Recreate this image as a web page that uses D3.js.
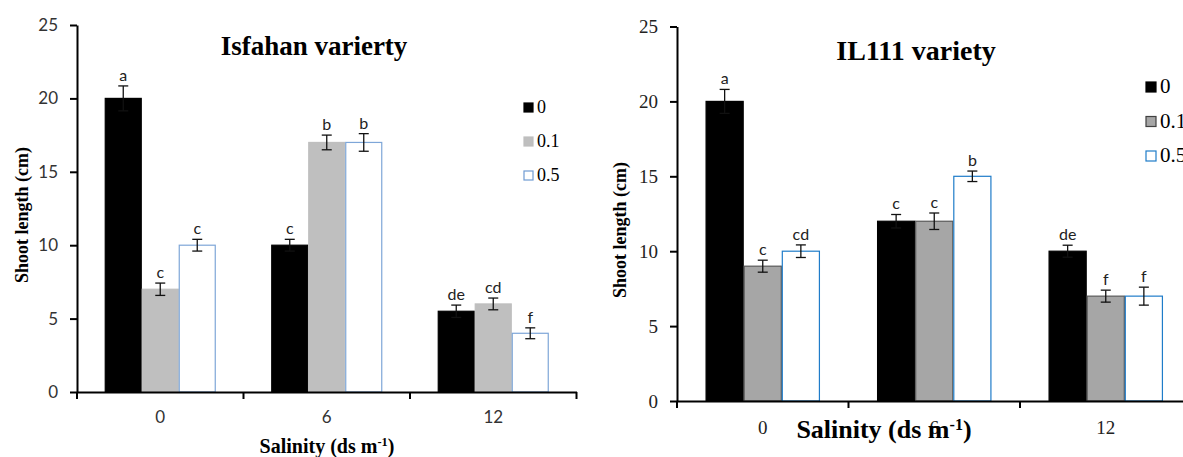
<!DOCTYPE html>
<html>
<head>
<meta charset="utf-8">
<script src="https://cdn.jsdelivr.net/npm/d3@7"></script>
<style>
  body { margin: 0; background: #fff; }
  svg { display: block; }
</style>
</head>
<body>
<svg id="chart" width="1183" height="457"></svg>
<script>
// categories and series
const salinity = ["0", "6", "12"];
const treatments = ["0", "0.1", "0.5"];
const yTicks = [0, 5, 10, 15, 20, 25];

// Isfahan variety: means, errors, letters (one array per treatment)
const isfahanMean0 = [20, 10, 5.5];
const isfahanMean01 = [7, 17, 6];
const isfahanMean05 = [10, 17, 4];
const isfahanErr0 = [0.85, 0.4, 0.42];
const isfahanErr01 = [0.42, 0.5, 0.4];
const isfahanErr05 = [0.4, 0.6, 0.37];
const isfahanLet0 = ["a", "c", "de"];
const isfahanLet01 = ["c", "b", "cd"];
const isfahanLet05 = ["c", "b", "f"];

// IL111 variety
const il111Mean0 = [20, 12, 10];
const il111Mean01 = [9, 12, 7];
const il111Mean05 = [10, 15, 7];
const il111Err0 = [0.8, 0.45, 0.4];
const il111Err01 = [0.4, 0.55, 0.4];
const il111Err05 = [0.42, 0.35, 0.6];
const il111Let0 = ["a", "c", "de"];
const il111Let01 = ["c", "c", "f"];
const il111Let05 = ["cd", "b", "f"];

function rows(means, errs, lets) {
  const out = [];
  salinity.forEach((s, i) => {
    treatments.forEach((t, j) => {
      out.push({ sal: s, trt: t, v: means[j][i], e: errs[j][i], lab: lets[j][i] });
    });
  });
  return out;
}

const isfahanData = rows([isfahanMean0, isfahanMean01, isfahanMean05],
  [isfahanErr0, isfahanErr01, isfahanErr05],
  [isfahanLet0, isfahanLet01, isfahanLet05]);
const il111Data = rows([il111Mean0, il111Mean01, il111Mean05],
  [il111Err0, il111Err01, il111Err05],
  [il111Let0, il111Let01, il111Let05]);

const svg = d3.select("#chart");
const sans = "Lato, 'Open Sans', sans-serif";
const serif = "'Liberation Serif', 'Times New Roman', serif";

function drawPanel(data, p) {
  const g = svg.append("g");

  const x = d3.scaleBand().domain(salinity)
    .range([p.left, p.left + 3 * p.step]).padding(0);
  const xs = d3.scaleBand().domain(treatments)
    .range([0, x.bandwidth()]).paddingInner(0).paddingOuter(0.75);
  const y = d3.scaleLinear().domain([0, 25]).range([p.bottom, p.top]);

  // bars
  g.selectAll("rect.bar").data(data).enter().append("rect")
    .attr("class", "bar")
    .attr("x", d => x(d.sal) + xs(d.trt) + 0.5)
    .attr("y", d => y(d.v))
    .attr("width", xs.bandwidth() - 1)
    .attr("height", d => y(0) - y(d.v))
    .attr("fill", d => p.fill[d.trt])
    .attr("stroke", d => p.stroke[d.trt])
    .attr("stroke-width", 1.2);

  // error bars
  const eb = g.selectAll("g.err").data(data).enter().append("g").attr("class", "err")
    .attr("stroke", "#111").attr("stroke-width", 1.3);
  const cx = d => x(d.sal) + xs(d.trt) + xs.bandwidth() / 2;
  eb.append("line").attr("x1", cx).attr("x2", cx)
    .attr("y1", d => y(d.v - d.e)).attr("y2", d => y(d.v + d.e));
  eb.append("line").attr("x1", d => cx(d) - 5).attr("x2", d => cx(d) + 5)
    .attr("y1", d => y(d.v + d.e)).attr("y2", d => y(d.v + d.e));
  eb.append("line").attr("x1", d => cx(d) - 5).attr("x2", d => cx(d) + 5)
    .attr("y1", d => y(d.v - d.e)).attr("y2", d => y(d.v - d.e));

  // letters
  g.selectAll("text.lab").data(data).enter().append("text")
    .attr("class", "lab")
    .attr("x", cx)
    .attr("y", d => y(d.v + d.e) - 5)
    .attr("text-anchor", "middle")
    .attr("font-family", sans)
    .attr("font-size", 16)
    .attr("fill", "#222")
    .text(d => d.lab);

  // y axis
  const yAxisG = g.append("g")
    .attr("transform", `translate(${p.left},0)`)
    .call(d3.axisLeft(y).tickValues(yTicks).tickSize(7).tickSizeOuter(0).tickPadding(12));
  yAxisG.select(".domain").attr("stroke", "#000").attr("stroke-width", 2);
  yAxisG.selectAll(".tick line").attr("stroke", "#000").attr("stroke-width", 2);
  yAxisG.selectAll(".tick text")
    .attr("font-family", p.tickFont).attr("font-size", p.tickSize).attr("fill", p.tickColor);

  // x axis
  const xAxisG = g.append("g")
    .attr("transform", `translate(0,${p.bottom})`)
    .call(d3.axisBottom(x).tickSize(0).tickPadding(p.xPad));
  xAxisG.select(".domain").attr("stroke", "#000").attr("stroke-width", 2.2);
  xAxisG.selectAll(".tick text")
    .attr("font-family", p.tickFont).attr("font-size", p.tickSize).attr("fill", p.tickColor);
  const bounds = d3.range(salinity.length + 1).map(i => x.range()[0] + i * x.step());
  xAxisG.selectAll("line.bound").data(bounds).enter().append("line")
    .attr("class", "bound")
    .attr("x1", d => d).attr("x2", d => d)
    .attr("y1", 0).attr("y2", 7)
    .attr("stroke", "#000").attr("stroke-width", 2);

  // title
  g.append("text")
    .attr("x", p.titleX).attr("y", p.titleY)
    .attr("text-anchor", "middle")
    .attr("font-family", serif).attr("font-weight", "bold")
    .attr("font-size", p.titleSize)
    .text(p.title);

  // y title
  g.append("text")
    .attr("transform", `translate(${p.yTitleX},${p.yTitleY}) rotate(-90)`)
    .attr("text-anchor", "middle")
    .attr("dy", "0.35em")
    .attr("font-family", serif).attr("font-weight", "bold")
    .attr("font-size", 18)
    .text("Shoot length (cm)");

  // x title
  const xt = g.append("text")
    .attr("x", p.xTitleX).attr("y", p.xTitleY)
    .attr("text-anchor", "middle")
    .attr("font-family", serif).attr("font-weight", "bold")
    .attr("font-size", p.xTitleSize);
  xt.append("tspan").text("Salinity (ds m");
  xt.append("tspan").attr("baseline-shift", "super").attr("font-size", p.xTitleSize * 0.62).text("-1");
  xt.append("tspan").text(")");

  // legend
  const lg = g.selectAll("g.leg").data(treatments).enter().append("g")
    .attr("class", "leg")
    .attr("transform", (d, i) => `translate(${p.legX},${p.legY + i * p.legStep})`);
  lg.append("rect")
    .attr("x", 0).attr("y", -p.legBox - 1)
    .attr("width", p.legBox).attr("height", p.legBox)
    .attr("fill", d => p.fill[d])
    .attr("stroke", d => p.legStroke[d])
    .attr("stroke-width", 1.2);
  lg.append("text")
    .attr("x", p.legBox + 4).attr("y", 0)
    .attr("font-family", serif).attr("font-size", p.legFont)
    .text(d => d);
}

drawPanel(isfahanData, {
  left: 77, step: 166.5, top: 25, bottom: 392,
  fill: { "0": "#000000", "0.1": "#bfbfbf", "0.5": "#ffffff" },
  stroke: { "0": "#000000", "0.1": "#bfbfbf", "0.5": "#7ea6d8" },
  legStroke: { "0": "#000000", "0.1": "#bfbfbf", "0.5": "#6f9bd3" },
  tickFont: sans, tickSize: 17, tickColor: "#333", xPad: 19,
  title: "Isfahan varierty", titleX: 314, titleY: 55, titleSize: 27,
  yTitleX: 22, yTitleY: 215,
  xTitleX: 327, xTitleY: 453, xTitleSize: 20,
  legX: 524, legY: 113, legStep: 34, legBox: 9, legFont: 18
});

drawPanel(il111Data, {
  left: 677, step: 171.5, top: 26.5, bottom: 401,
  fill: { "0": "#000000", "0.1": "#a6a6a6", "0.5": "#ffffff" },
  stroke: { "0": "#000000", "0.1": "#595959", "0.5": "#1f7cc9" },
  legStroke: { "0": "#000000", "0.1": "#404040", "0.5": "#1f7cc9" },
  tickFont: serif, tickSize: 19, tickColor: "#222", xPad: 20,
  title: "IL111 variety", titleX: 916, titleY: 60, titleSize: 28,
  yTitleX: 620, yTitleY: 230,
  xTitleX: 884, xTitleY: 438, xTitleSize: 26,
  legX: 1146, legY: 93, legStep: 34.5, legBox: 10, legFont: 21
});
</script>
</body>
</html>
